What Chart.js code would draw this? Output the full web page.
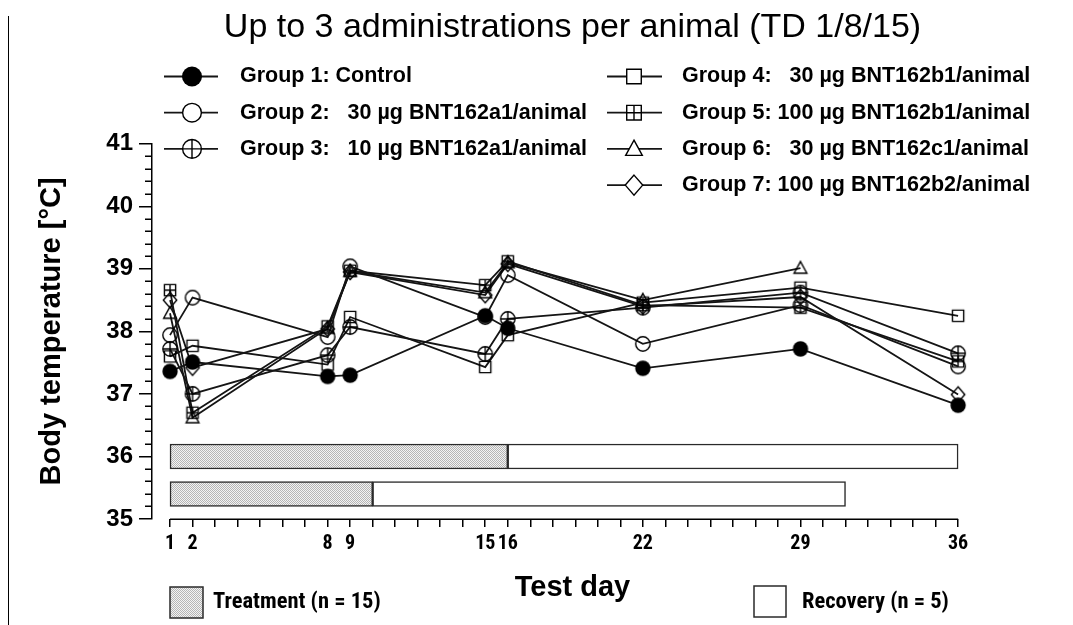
<!DOCTYPE html>
<html>
<head>
<meta charset="utf-8">
<script src="https://cdn.jsdelivr.net/npm/chart.js@4.4.1/dist/chart.umd.min.js"></script>
<style>
  html, body { margin: 0; padding: 0; background: #fff; }
  #wrap { position: relative; width: 1073px; height: 625px; overflow: hidden; }
  #edge { position: absolute; left: 8px; top: 16px; height: 609px; border-left: 1.5px solid #000; }
  canvas { display: block; }
</style>
</head>
<body>
<div id="wrap">
  <canvas id="chart" width="1073" height="625"></canvas>
  <div id="edge"></div>
</div>
<script>
const TITLE = "Up to 3 administrations per animal (TD 1/8/15)";

const testDays = [1, 2, 8, 9, 15, 16, 22, 29, 36];
const group1 = [37.36, 37.51, 37.28, 37.30, 38.25, 38.05, 37.41, 37.72, 36.82];
const group2 = [37.94, 38.54, 37.91, 39.04, 38.23, 38.90, 37.80, 38.42, 37.44];
const group3 = [37.72, 37.00, 37.62, 38.07, 37.64, 38.20, 38.38, 38.62, 37.65];
const group4 = [37.60, 37.77, 37.47, 38.23, 37.43, 37.94, 38.46, 38.70, 38.25];
const group5 = [38.66, 36.70, 38.08, 38.97, 38.74, 39.12, 38.42, 38.38, 37.52];
const group6 = [38.29, 36.62, 38.05, 38.96, 38.62, 39.10, 38.50, 39.01, null];
const group7 = [38.50, 37.42, 38.04, 38.95, 38.58, 39.08, 38.40, 38.55, 36.99];

const groupNames = [
  "Group 1: Control",
  "Group 2:   30 µg BNT162a1/animal",
  "Group 3:   10 µg BNT162a1/animal",
  "Group 4:   30 µg BNT162b1/animal",
  "Group 5: 100 µg BNT162b1/animal",
  "Group 6:   30 µg BNT162c1/animal",
  "Group 7: 100 µg BNT162b2/animal",
];
const groupMarkers = ["dot", "circle", "circlePlus", "square", "squarePlus", "triangle", "diamond"];

// treatment / recovery periods (test days), one row each
const periodRows = [36, 35.4];
const treatmentSpans = [[1, 16], [1, 10]];
const recoverySpans = [[16, 36], [10, 31]];
const treatmentLabel = "Treatment (n = 15)";
const recoveryLabel = "Recovery (n = 5)";

const yTicks = [35, 36, 37, 38, 39, 40, 41];
const allDays = Array.from({ length: 36 }, (_, i) => i + 1);

function fontAvailable(name) {
  const c = document.createElement("canvas").getContext("2d");
  c.font = "40px monospace";
  const base = c.measureText("Treatment 0123").width;
  c.font = `40px "${name}", monospace`;
  return c.measureText("Treatment 0123").width !== base;
}

const SANS = '"Liberation Sans", Arial, sans-serif';
const narrowName = ["Liberation Sans Narrow", "Arial Narrow", "Roboto Condensed"].find(fontAvailable);
const NARROW = narrowName ? `"${narrowName}", sans-serif` : SANS;
const tickSize = narrowName ? 20 : 18.5;
const periodSize = narrowName ? 22.5 : 19.5;

function drawMarker(ctx, kind, x, y, s, fill) {
  ctx.save();
  ctx.lineWidth = 1.4;
  ctx.strokeStyle = "#000";
  ctx.fillStyle = fill || "#000";
  ctx.beginPath();
  if (kind === "dot") {
    ctx.arc(x, y, 7.7 * s, 0, Math.PI * 2);
    ctx.fillStyle = "#000";
    ctx.fill();
  } else if (kind === "circle" || kind === "circlePlus") {
    const r = 7.2 * s;
    ctx.arc(x, y, r, 0, Math.PI * 2);
    if (fill) ctx.fill();
    if (kind === "circlePlus") {
      ctx.moveTo(x - r, y); ctx.lineTo(x + r, y);
      ctx.moveTo(x, y - r); ctx.lineTo(x, y + r);
    }
    ctx.stroke();
  } else if (kind === "square" || kind === "squarePlus") {
    const h = 5.6 * s;
    ctx.rect(x - h, y - h, 2 * h, 2 * h);
    if (fill) ctx.fill();
    if (kind === "squarePlus") {
      ctx.moveTo(x - h, y); ctx.lineTo(x + h, y);
      ctx.moveTo(x, y - h); ctx.lineTo(x, y + h);
    }
    ctx.stroke();
  } else if (kind === "triangle") {
    ctx.moveTo(x, y - 6.7 * s);
    ctx.lineTo(x + 6.4 * s, y + 5 * s);
    ctx.lineTo(x - 6.4 * s, y + 5 * s);
    ctx.closePath();
    if (fill) ctx.fill();
    ctx.stroke();
  } else if (kind === "diamond") {
    ctx.moveTo(x, y - 7.7 * s);
    ctx.lineTo(x + 6.7 * s, y);
    ctx.lineTo(x, y + 7.7 * s);
    ctx.lineTo(x - 6.7 * s, y);
    ctx.closePath();
    if (fill) ctx.fill();
    ctx.stroke();
  }
  ctx.restore();
}

function markerImage(kind) {
  const c = document.createElement("canvas");
  c.width = 22;
  c.height = 22;
  drawMarker(c.getContext("2d"), kind, 11, 11, 1);
  return c;
}

const canvas = document.getElementById("chart");
const ctx0 = canvas.getContext("2d");

function stipple() {
  const c = document.createElement("canvas");
  c.width = 2;
  c.height = 2;
  const g = c.getContext("2d");
  g.fillStyle = "#f3f3f3";
  g.fillRect(0, 0, 2, 2);
  g.fillStyle = "#b5b5b5";
  g.fillRect(0, 0, 1, 1);
  g.fillRect(1, 1, 1, 1);
  return ctx0.createPattern(c, "repeat");
}
const treatmentFill = stipple();

const groups = [group1, group2, group3, group4, group5, group6, group7];
const lineSets = groups.map((vals, i) => ({
  type: "line",
  label: groupNames[i],
  data: testDays.map((d, k) => ({ x: d, y: vals[k] })),
  borderColor: "#151515",
  borderWidth: 1.8,
  tension: 0,
  fill: false,
  spanGaps: true,
  pointStyle: markerImage(groupMarkers[i]),
  pointRadius: 7,
}));

const barBase = {
  type: "bar",
  indexAxis: "y",
  grouped: false,
  barThickness: 25,
  borderColor: "#2a2a2a",
  borderWidth: 1.5,
  borderSkipped: false,
};
const barSets = [
  { ...barBase, label: treatmentLabel, backgroundColor: treatmentFill,
    data: periodRows.map((r, k) => ({ y: r, x: treatmentSpans[k] })) },
  { ...barBase, label: recoveryLabel, backgroundColor: "#fff",
    data: periodRows.map((r, k) => ({ y: r, x: recoverySpans[k] })) },
];

const axisExtras = {
  id: "axisExtras",
  afterDraw(chart) {
    const { ctx, chartArea } = chart;
    const x = chart.scales.x;
    const y = chart.scales.y;
    ctx.save();
    ctx.strokeStyle = "#000";
    ctx.lineWidth = 1.5;
    ctx.beginPath();
    // minor ticks on the temperature axis, every 0.2 °C
    for (let k = 1; k < 30; k++) {
      if (k % 5 === 0) continue;
      const py = Math.round(y.getPixelForValue(35 + k * 0.2)) + 0.25;
      ctx.moveTo(chartArea.left - 7, py);
      ctx.lineTo(chartArea.left, py);
    }
    // x axis line only spans the study days
    const by = Math.round(chartArea.bottom) + 0.25;
    ctx.moveTo(x.getPixelForValue(testDays[0]), by);
    ctx.lineTo(x.getPixelForValue(testDays[testDays.length - 1]), by);
    ctx.stroke();
    ctx.restore();
  },
};

const legendPlugin = {
  id: "groupLegend",
  afterDraw(chart) {
    const ctx = chart.ctx;
    const cols = [
      { from: 164, to: 218, mark: 192, text: 240 },
      { from: 607, to: 662, mark: 634, text: 682 },
    ];
    ctx.save();
    ctx.textBaseline = "middle";
    ctx.textAlign = "left";
    ctx.fillStyle = "#000";
    ctx.font = `bold 21.5px ${SANS}`;
    groupNames.forEach((name, i) => {
      const col = i < 3 ? cols[0] : cols[1];
      const row = i < 3 ? i : i - 3;
      const yy = 76.5 + row * 36.2;
      ctx.strokeStyle = "#151515";
      ctx.lineWidth = 1.8;
      ctx.beginPath();
      ctx.moveTo(col.from, yy);
      ctx.lineTo(col.to, yy);
      ctx.stroke();
      drawMarker(ctx, groupMarkers[i], col.mark, yy, 1.3, "#fff");
      ctx.fillStyle = "#000";
      ctx.fillText(name, col.text, yy);
    });

    // period legend under the axis
    ctx.lineWidth = 1.5;
    ctx.strokeStyle = "#2a2a2a";
    ctx.fillStyle = treatmentFill;
    ctx.fillRect(170, 587, 33, 31);
    ctx.strokeRect(170, 587, 33, 31);
    ctx.fillStyle = "#fff";
    ctx.fillRect(754, 586, 32, 31);
    ctx.strokeRect(754, 586, 32, 31);
    ctx.fillStyle = "#000";
    ctx.font = `bold ${periodSize}px ${NARROW}`;
    ctx.fillText(treatmentLabel, 213, 602);
    ctx.fillText(recoveryLabel, 802, 602);
    ctx.restore();
  },
};

new Chart(canvas, {
  type: "line",
  data: { datasets: [...lineSets, ...barSets] },
  options: {
    responsive: false,
    animation: false,
    events: [],
    layout: { padding: { left: 14, right: 80, top: 0, bottom: 0 } },
    plugins: {
      legend: { display: false },
      tooltip: { enabled: false },
      title: {
        display: true,
        text: TITLE,
        fullSize: false,
        color: "#000",
        font: { family: SANS, size: 34, weight: "normal" },
        padding: { top: 7, bottom: 96 },
      },
    },
    scales: {
      x: {
        type: "linear",
        min: 0.2,
        max: 37.55,
        afterBuildTicks: (s) => { s.ticks = allDays.map((v) => ({ value: v })); },
        afterFit: (s) => { s.height = 106; },
        border: { display: false },
        grid: { drawOnChartArea: false, drawTicks: true, tickLength: 8, color: "#000", lineWidth: 1.5 },
        ticks: {
          autoSkip: false,
          maxRotation: 0,
          padding: 5,
          color: "#000",
          font: { family: NARROW, size: tickSize, weight: "bold" },
          callback: (v) => (testDays.includes(v) ? String(v) : ""),
        },
        title: {
          display: true,
          text: "Test day",
          color: "#000",
          font: { family: SANS, size: 29, weight: "bold" },
          padding: { top: 0, bottom: 20 },
        },
      },
      y: {
        type: "linear",
        min: yTicks[0],
        max: yTicks[yTicks.length - 1],
        offset: false,
        afterFit: (s) => { s.width = 138; },
        border: { display: true, color: "#000", width: 1.5 },
        grid: { offset: false, drawOnChartArea: false, tickLength: 13, color: "#000", lineWidth: 1.5 },
        ticks: {
          stepSize: 1,
          padding: 6,
          color: "#000",
          font: { family: SANS, size: 24, weight: "bold" },
        },
        title: {
          display: true,
          text: "Body temperature [°C]",
          color: "#000",
          font: { family: SANS, size: 29, weight: "bold" },
          padding: { top: 21, bottom: 0 },
        },
      },
    },
  },
  plugins: [axisExtras, legendPlugin],
});
</script>
</body>
</html>
